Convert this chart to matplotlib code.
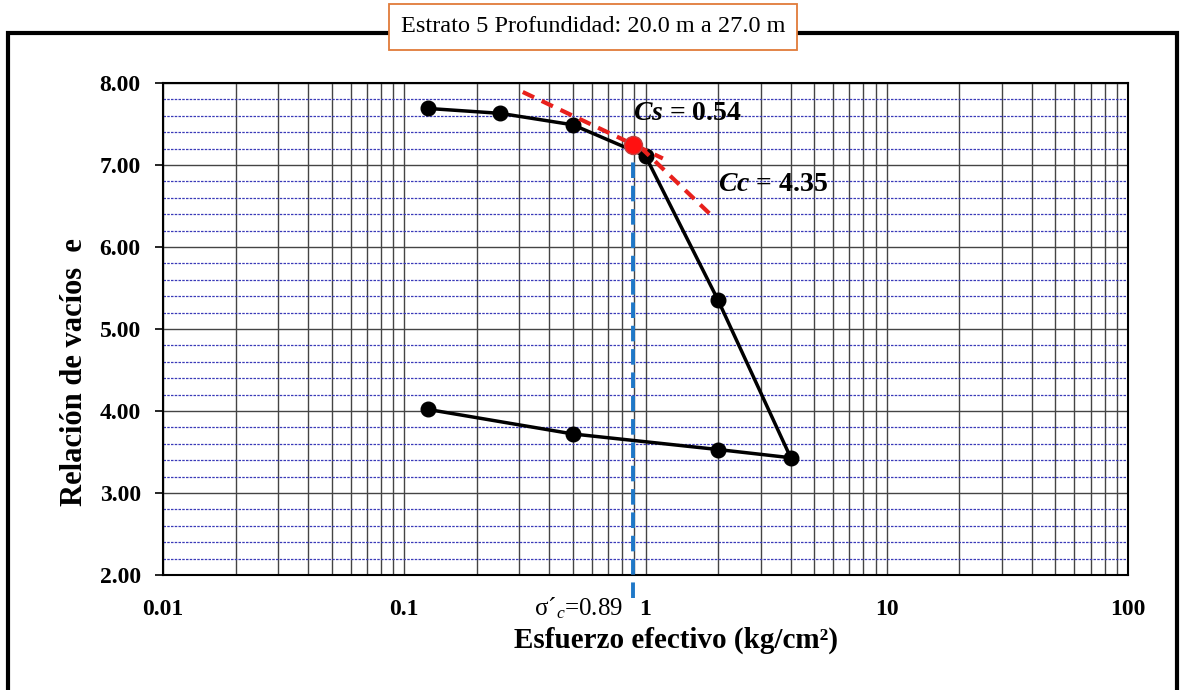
import matplotlib
matplotlib.use("Agg")
import matplotlib.pyplot as plt
from matplotlib.patches import Rectangle
from matplotlib.ticker import LogLocator, FixedLocator, MultipleLocator

plt.rcParams["font.family"] = ["Liberation Serif", "DejaVu Serif"]
plt.rcParams["mathtext.fontset"] = "custom"
plt.rcParams["mathtext.rm"] = "Liberation Serif"
plt.rcParams["mathtext.it"] = "Liberation Serif:italic"
plt.rcParams["mathtext.bf"] = "Liberation Serif:italic:bold"

# curva de consolidacion (carga y descarga)
esfuerzo = [0.125, 0.25, 0.5, 1.0, 2.0, 4.0, 2.0, 0.5, 0.125]
relacion_vacios = [7.69, 7.63, 7.49, 7.11, 5.35, 3.43, 3.53, 3.72, 4.02]

# presion de preconsolidacion
sigma_c = 0.89
e_c = 7.24

# rectas Cs y Cc
cs_x = [0.31, 1.18]
cs_y = [7.89, 7.08]
cc_x = [0.95, 1.90]
cc_y = [7.22, 6.37]

x_ticks = [0.01, 0.1, 1, 10, 100]
x_tick_labels = ["0.01", "0.1", "1", "10", "100"]

fig = plt.figure(figsize=(11.82, 6.9), dpi=100)
ax = fig.add_axes([163 / 1182, 115 / 690, 965 / 1182, 492 / 690])

ax.set_xscale("log")
ax.set_xlim(0.01, 100)
ax.set_ylim(2, 8)

# rejilla
ax.xaxis.set_major_locator(FixedLocator(x_ticks))
ax.xaxis.set_minor_locator(LogLocator(base=10, subs=range(2, 10)))
ax.yaxis.set_major_locator(MultipleLocator(1))
ax.yaxis.set_minor_locator(MultipleLocator(0.2))
ax.grid(which="major", axis="both", color="#444444", lw=1.0)
ax.grid(which="minor", axis="x", color="#444444", lw=1.0)
ax.grid(which="minor", axis="y", color="#3a3ab8", lw=0.9, ls=(0, (2, 1)))
ax.set_axisbelow(True)

ax.plot(esfuerzo, relacion_vacios, color="black", lw=2.5, marker="o",
        ms=10.5, zorder=3)

ax.plot(cs_x, cs_y, color="#e8201c", lw=3, ls=(0, (3, 2)), zorder=4)
ax.plot(cc_x, cc_y, color="#e8201c", lw=3, ls=(0, (3, 2)), zorder=4)

ax.plot([sigma_c, sigma_c], [1.72, 7.42], color="#1f78c8", lw=2.8,
        ls=(0, (4, 2)), clip_on=False, zorder=4)
ax.plot([sigma_c], [e_c], marker="o", ms=13, color="#ff1010",
        mec="#c04040", zorder=5)

ax.text(0.89, 7.63, r"$\mathbf{Cs}$ = 0.54", fontsize=20,
        fontweight="bold", va="center", zorder=6)
ax.text(2.0, 6.76, r"$\mathbf{Cc}$ = 4.35", fontsize=20,
        fontweight="bold", va="center", zorder=6)

ax.set_xticklabels(x_tick_labels)
ax.tick_params(axis="x", which="both", length=0, labelsize=17, pad=17)
ax.tick_params(axis="y", which="major", length=6, width=1.2, labelsize=17,
               pad=10)
ax.tick_params(axis="y", which="minor", length=0)
for lab in ax.get_xticklabels() + ax.get_yticklabels():
    lab.set_fontweight("bold")
ax.yaxis.set_major_formatter(plt.FuncFormatter(lambda v, p: f"{v:.2f}"))

ax.annotate("σ´$_{c}$=0.89", xy=(sigma_c, 2), xytext=(-7, -24),
            textcoords="offset points", ha="right", va="center",
            fontsize=18, annotation_clip=False)

ax.set_xlabel("Esfuerzo efectivo (kg/cm²)", fontsize=21, fontweight="bold",
              va="center")
ax.xaxis.set_label_coords((676 - 163) / 965, (575 - 640) / 492)
ax.set_ylabel("Relación de vacíos  e", fontsize=22, fontweight="bold",
              va="center")
ax.yaxis.set_label_coords((75 - 163) / 965, (575 - 372) / 492)

for s in ax.spines.values():
    s.set_linewidth(1.5)
    s.set_color("black")

# marco exterior
fig.patches.append(Rectangle((8 / 1182, -0.05), 1169 / 1182, 0.05 + 657 / 690,
                             transform=fig.transFigure, fill=False,
                             ec="black", lw=3, zorder=0))

fig.text(593 / 1182, 1 - 27 / 690, "Estrato 5 Profundidad: 20.0 m a 27.0 m",
         ha="center", va="center", fontsize=17.5,
         bbox=dict(boxstyle="square,pad=0.5", fc="white", ec="#e07b39",
                   lw=1.3))

fig.savefig("out.png", dpi=100)
